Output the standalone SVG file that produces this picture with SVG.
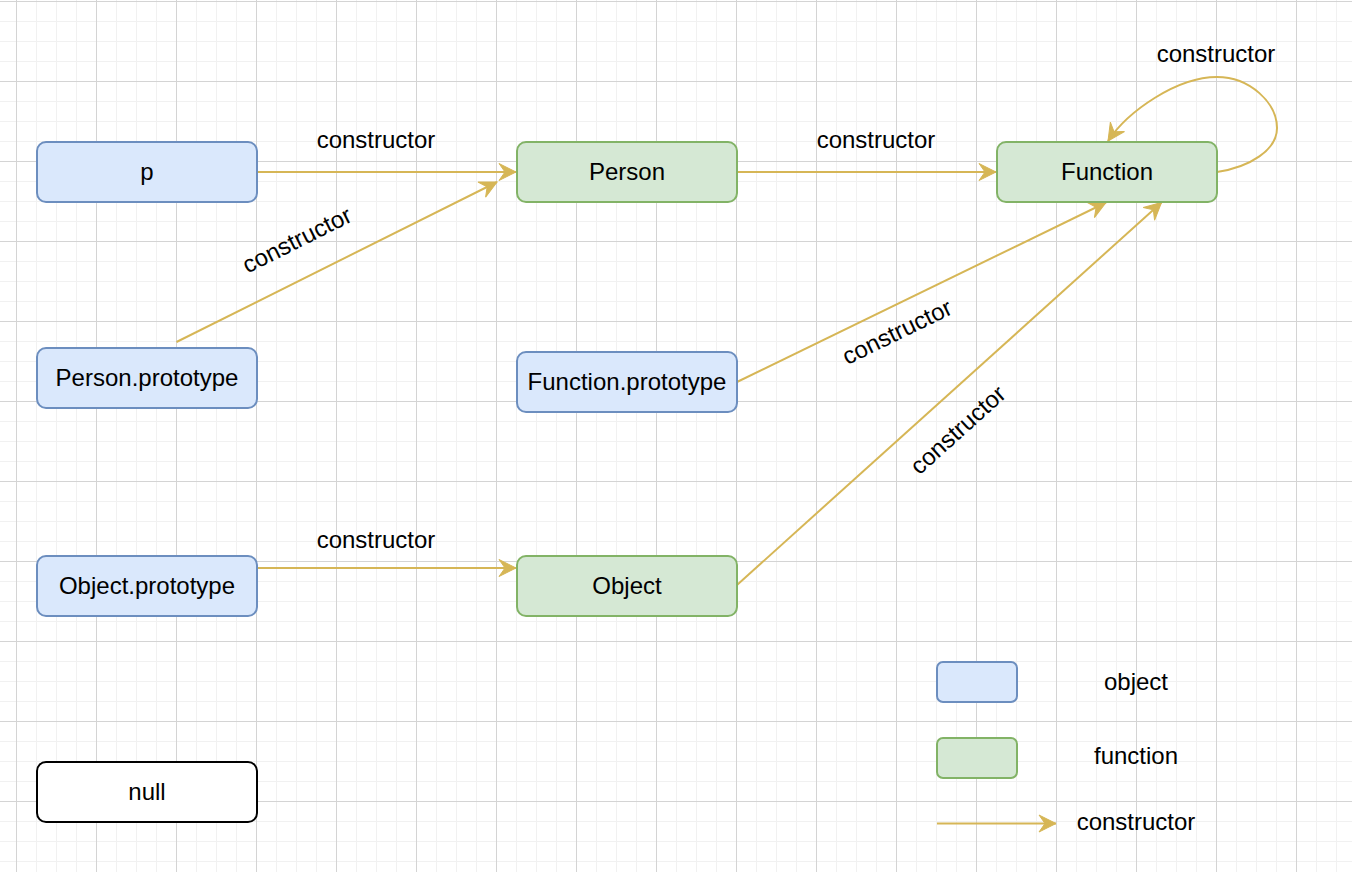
<svg xmlns="http://www.w3.org/2000/svg" width="1352" height="872" viewBox="0 0 1352 872">
<style>
.t{font-family:"Liberation Sans",Arial,sans-serif;font-size:24px;fill:#000;text-anchor:middle}
.obj{fill:#dae8fc;stroke:#6c8ebf;stroke-width:2}
.fn{fill:#d5e8d4;stroke:#82b366;stroke-width:2}
.nul{fill:#ffffff;stroke:#000000;stroke-width:2}
.e{fill:none;stroke:#d6b656;stroke-width:2;marker-end:url(#arr)}
</style>
<defs>
<pattern id="minor" x="16" y="1" width="20" height="20" patternUnits="userSpaceOnUse">
<path d="M0.5,0 V20 M0,0.5 H20" stroke="#f1f1f1" stroke-width="1" fill="none"/>
</pattern>
<pattern id="major" x="16" y="1" width="80" height="80" patternUnits="userSpaceOnUse">
<path d="M0.5,0 V80 M0,0.5 H80" stroke="#d4d4d4" stroke-width="1" fill="none"/>
</pattern>
<marker id="arr" markerUnits="userSpaceOnUse" markerWidth="20" markerHeight="20" viewBox="-18 -10 20 20" refX="0" refY="0" orient="auto">
<path d="M0,0 L-17,-8.5 L-11,0 L-17,8.5 Z" fill="#d6b656" stroke="#d6b656" stroke-width="1" stroke-linejoin="miter"/>
</marker>
</defs>
<rect width="1352" height="872" fill="#ffffff"/>
<rect width="1352" height="872" fill="url(#minor)"/>
<rect width="1352" height="872" fill="url(#major)"/>

<g id="connectors">
<path class="e" d="M257,172 L516,172"/>
<path class="e" d="M176.5,342 L497,182"/>
<path class="e" d="M737,172 L996,172"/>
<path class="e" d="M1217,172 C1250,167 1277,150 1277,128 C1277,103 1250,77 1217,77 C1177,77 1128,111 1108,141"/>
<path class="e" d="M737,382 L1106,202.5"/>
<path class="e" d="M737,585 L1161.5,202.5"/>
<path class="e" d="M257,568 L516,568"/>
<text class="t" x="376" y="148">constructor</text>
<text class="t" x="876" y="148">constructor</text>
<text class="t" x="1216" y="62">constructor</text>
<text class="t" x="376" y="548">constructor</text>
<text class="t" transform="translate(297,240) rotate(-26.6)" x="0" y="8">constructor</text>
<text class="t" transform="translate(897,332) rotate(-26)" x="0" y="8">constructor</text>
<text class="t" transform="translate(958,430) rotate(-42)" x="0" y="8">constructor</text>
</g>

<g id="node-p"><rect class="obj" x="37" y="142" width="220" height="60" rx="9"/><text class="t" x="147" y="180">p</text></g>
<g id="node-person"><rect class="fn" x="517" y="142" width="220" height="60" rx="9"/><text class="t" x="627" y="180">Person</text></g>
<g id="node-function"><rect class="fn" x="997" y="142" width="220" height="60" rx="9"/><text class="t" x="1107" y="180">Function</text></g>
<g id="node-person-prototype"><rect class="obj" x="37" y="348" width="220" height="60" rx="9"/><text class="t" x="147" y="386">Person.prototype</text></g>
<g id="node-function-prototype"><rect class="obj" x="517" y="352" width="220" height="60" rx="9"/><text class="t" x="627" y="390">Function.prototype</text></g>
<g id="node-object-prototype"><rect class="obj" x="37" y="556" width="220" height="60" rx="9"/><text class="t" x="147" y="594">Object.prototype</text></g>
<g id="node-object"><rect class="fn" x="517" y="556" width="220" height="60" rx="9"/><text class="t" x="627" y="594">Object</text></g>
<g id="node-null"><rect class="nul" x="37" y="762" width="220" height="60" rx="9"/><text class="t" x="147" y="800">null</text></g>

<g id="legend">
<rect class="obj" x="937" y="662" width="80" height="40" rx="6"/>
<text class="t" x="1136" y="690">object</text>
<rect class="fn" x="937" y="738" width="80" height="40" rx="6"/>
<text class="t" x="1136" y="764">function</text>
<path class="e" d="M937,823.5 L1056,823.5"/>
<text class="t" x="1136" y="830">constructor</text>
</g>
</svg>
